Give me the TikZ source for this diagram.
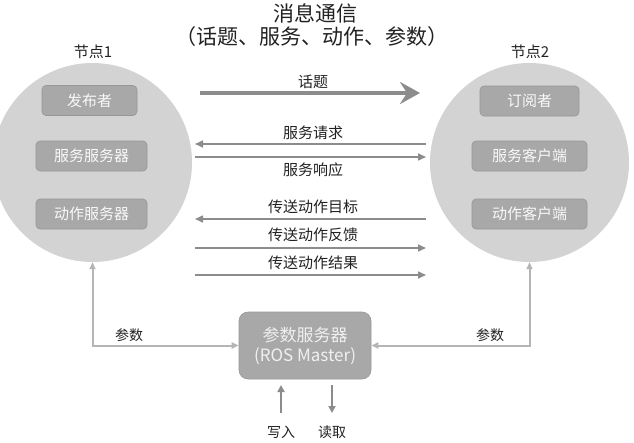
\documentclass[tikz,border=0pt]{standalone}
\usepackage{fontspec}
\setmainfont{Noto Sans CJK SC}
\usetikzlibrary{arrows.meta}
\definecolor{cgray}{HTML}{D3D3D3}
\definecolor{bgray}{HTML}{A8A8A8}
\definecolor{bdraw}{HTML}{979797}
\definecolor{agray}{HTML}{8C8C8C}
\definecolor{pgray}{HTML}{B5B5B5}
\definecolor{tgray}{HTML}{222222}
\begin{document}
\begin{tikzpicture}[x=1pt,y=-1pt,
  nodecirc/.style={circle, fill=cgray, minimum size=199pt, inner sep=0pt},
  inbox/.style={rounded corners=4pt, fill=bgray, draw=bdraw, line width=0.6pt, text=white!95!gray, font=\fontsize{15}{17}\selectfont, minimum height=30pt, inner sep=0pt},
  lbl/.style={font=\fontsize{15}{17}\selectfont, text=tgray, inner sep=0pt},
  slbl/.style={font=\fontsize{14}{16}\selectfont, text=tgray, inner sep=0pt},
  thinarrow/.style={draw=agray, line width=1.6pt, -{Triangle[length=8pt,width=7pt]}},
  parline/.style={draw=pgray, line width=2pt, {Triangle[length=7pt,width=6pt]}-{Triangle[length=7pt,width=6pt]}},
  rwarrow/.style={draw=agray, line width=2.2pt, -{Triangle[length=7pt,width=7pt]}}
]
\useasboundingbox (0,0) rectangle (634,442);
\clip (0,0) rectangle (634,442);
\fill[white] (0,0) rectangle (634,442);

% titles
\node[font=\fontsize{21}{24}\selectfont, text=tgray, inner sep=0pt] (t1) at (315,13) {消息通信};
\node[font=\fontsize{21}{24}\selectfont, text=tgray, inner sep=0pt] (t2) at (312,37) {（话题、服务、动作、参数）};
\node[lbl] (lab1) at (93,52) {节点1};
\node[lbl] (lab2) at (530,52) {节点2};

% circles
\node[nodecirc] (n1) at (92.5,162.5) {};
\node[nodecirc] (n2) at (529.5,162.5) {};

% inner boxes
\node[inbox, minimum width=95pt] (pub) at (89.5,100.5) {发布者};
\node[inbox, minimum width=111pt] (ssrv) at (91.5,156) {服务服务器};
\node[inbox, minimum width=111pt] (asrv) at (91.5,214) {动作服务器};
\node[inbox, minimum width=99pt] (sub) at (529.5,101) {订阅者};
\node[inbox, minimum width=115pt] (scli) at (529.5,156) {服务客户端};
\node[inbox, minimum width=115pt] (acli) at (529.5,214) {动作客户端};

% arrow end points
\coordinate (tA) at (200,93);  \coordinate (tB) at (420,93);
\coordinate (sqA) at (195,144); \coordinate (sqB) at (426,144);
\coordinate (srA) at (195,157); \coordinate (srB) at (426,157);
\coordinate (agA) at (195,219); \coordinate (agB) at (426,219);
\coordinate (afA) at (195,248); \coordinate (afB) at (426,248);
\coordinate (arA) at (195,275); \coordinate (arB) at (426,275);

\draw[draw=agray, line width=4pt, -{Stealth[length=20pt,width=22pt,inset=7pt]}] (tA) -- (tB);
\node[lbl] (ltopic) at (313,82) {话题};

\draw[thinarrow] (sqB) -- (sqA);
\node[lbl] (lsq) at (313,133) {服务请求};
\draw[thinarrow] (srA) -- (srB);
\node[lbl] (lsr) at (313,170) {服务响应};

\draw[thinarrow] (agB) -- (agA);
\node[lbl] (lag) at (313,207) {传送动作目标};
\draw[thinarrow] (afA) -- (afB);
\node[lbl] (laf) at (313,235) {传送动作反馈};
\draw[thinarrow] (arA) -- (arB);
\node[lbl] (lar) at (313,263) {传送动作结果};

% parameter server
\node[rounded corners=9pt, fill=bgray, draw=bdraw, line width=0.6pt, minimum width=132pt, minimum height=67pt, inner sep=0pt,
  text=white!88!gray, font=\fontsize{17}{20}\selectfont, align=center] (pm) at (305,345.5) {参数服务器\\(ROS Master)};

\draw[parline] (n1.south) |- (pm.west);
\draw[parline] (n2.south) |- (pm.east);
\node[slbl] (lp1) at (129,335) {参数};
\node[slbl] (lp2) at (490,335) {参数};

\coordinate (wA) at (281,413); \coordinate (wB) at (281,385);
\coordinate (rA) at (332,385); \coordinate (rB) at (332,413);
\draw[rwarrow] (wA) -- (wB);
\draw[rwarrow] (rA) -- (rB);
\node[slbl] (lw) at (281,432) {写入};
\node[slbl] (lr) at (332,432) {读取};
\end{tikzpicture}
\end{document}
